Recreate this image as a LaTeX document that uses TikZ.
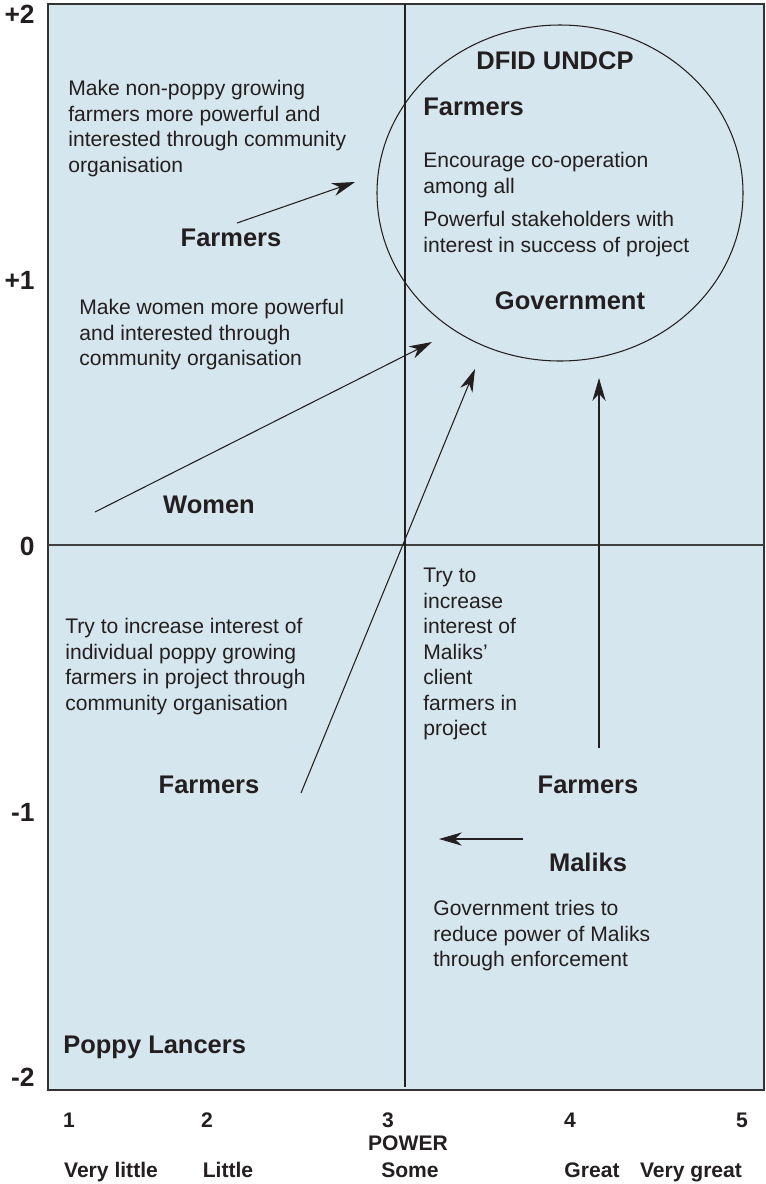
\documentclass[tikz,border=0pt]{standalone}
\usepackage{fontspec}
\setmainfont{Liberation Sans}
\usepackage{tkz-euclide}
\usetikzlibrary{arrows.meta}
\definecolor{fondo}{RGB}{214,230,238}
\definecolor{tinta}{RGB}{35,31,32}
\tikzset{
  texto/.style={anchor=north west,inner sep=0pt,align=left,text=tinta,font=\fontsize{12}{14.5}\selectfont},
  actor/.style={anchor=base,inner sep=0pt,text=tinta,font=\fontsize{14.5}{17}\selectfont\bfseries},
  eje/.style={anchor=base,inner sep=0pt,text=tinta,font=\fontsize{12}{14}\selectfont\bfseries},
  interes/.style={anchor=base east,inner sep=0pt,text=tinta,font=\fontsize{15}{17}\selectfont\bfseries},
  flecha/.style={draw=tinta,line width=0.6pt,-{Stealth[length=13pt,width=7.5pt,inset=4pt]}}
}

\begin{document}
\begin{tikzpicture}[x=0.02cm,y=-0.02cm]
        % Fija el marco de la figura.
        \useasboundingbox (0,0) rectangle (765,1184);

        % Dibuja el fondo y los dos ejes (poder e interes).
        \draw[fill=fondo,draw=black!80,line width=1.1pt] (48,4) rectangle (764,1090);
        \draw[black!75,line width=1pt] (48,545) -- (764,545);
        \draw[tinta,line width=0.6pt] (405,4) -- (405,1087);

        % Dibuja la elipse de los actores poderosos.
        \draw[tinta,line width=0.6pt] (560,193) ellipse [x radius=183, y radius=168];

        % Define los extremos de las flechas.
        \tkzDefPoint(237,223){A1}
        \tkzDefPoint(355,182){B1}
        \tkzDefPoint(95,512){A2}
        \tkzDefPoint(432,342){B2}
        \tkzDefPoint(301,793){A3}
        \tkzDefPoint(475,369){B3}
        \tkzDefPoint(599,748){A4}
        \tkzDefPoint(599,378){B4}
        \tkzDefPoint(523,839){A5}
        \tkzDefPoint(439,839){B5}

        % Dibuja las flechas hacia la elipse.
        \draw[flecha] (A1) -- (B1);
        \draw[flecha] (A2) -- (B2);
        \draw[flecha] (A3) -- (B3);
        \draw[flecha] (A4) -- (B4);
        \draw[flecha] (A5) -- (B5);

        % Escribe los textos del cuadrante superior izquierdo.
        \node[texto] (noamapola) at (68,80) {Make non-poppy growing\\farmers more powerful and\\interested through community\\organisation};
        \node[actor] (agricultoresA) at (231,246) {Farmers};
        \node[texto] (mujerestxt) at (79,299) {Make women more powerful\\and interested through\\community organisation};
        \node[actor] (mujeres) at (209,513) {Women};

        % Escribe los textos dentro de la elipse.
        \node[actor] (dfid) at (555,69) {DFID UNDCP};
        \node[actor,anchor=base west] (agricultoresB) at (423,115) {Farmers};
        \node[texto] (cooperacion) at (423,152) {Encourage co-operation\\among all};
        \node[texto] (poderosos) at (423,211) {Powerful stakeholders with\\interest in success of project};
        \node[actor] (gobierno) at (570,309) {Government};

        % Escribe los textos de la mitad inferior.
        \node[texto] (amapolatxt) at (65,618) {Try to increase interest of\\individual poppy growing\\farmers in project through\\community organisation};
        \node[actor] (agricultoresC) at (209,793) {Farmers};
        \node[texto] (clientes) at (423,568) {Try to\\increase\\interest of\\Maliks'\\client\\farmers in\\project};
        \node[actor] (agricultoresD) at (588,793) {Farmers};
        \node[actor] (maliks) at (588,871) {Maliks};
        \node[texto] (coercion) at (433,900) {Government tries to\\reduce power of Maliks\\through enforcement};
        \node[actor,anchor=base west] (lancers) at (63,1053) {Poppy Lancers};

        % Etiquetas del eje vertical (interes).
        \node[interes] (ymas2) at (35,23) {+2};
        \node[interes] (ymas1) at (35,289) {+1};
        \node[interes] (ycero) at (35,555) {0};
        \node[interes] (ymenos1) at (35,821) {-1};
        \node[interes] (ymenos2) at (35,1086) {-2};

        % Etiquetas del eje horizontal (poder).
        \node[eje] (x1) at (69,1127) {1};
        \node[eje] (x2) at (207,1127) {2};
        \node[eje] (x3) at (388,1127) {3};
        \node[eje] (x4) at (570,1127) {4};
        \node[eje] (x5) at (742,1127) {5};
        \node[eje] (poder) at (408,1150) {POWER};
        \node[eje] (muypoco) at (111,1177) {Very little};
        \node[eje] (poco) at (228,1177) {Little};
        \node[eje] (algo) at (410,1177) {Some};
        \node[eje] (mucho) at (592,1177) {Great};
        \node[eje] (muchisimo) at (691,1177) {Very great};
    \end{tikzpicture}
\end{document}
